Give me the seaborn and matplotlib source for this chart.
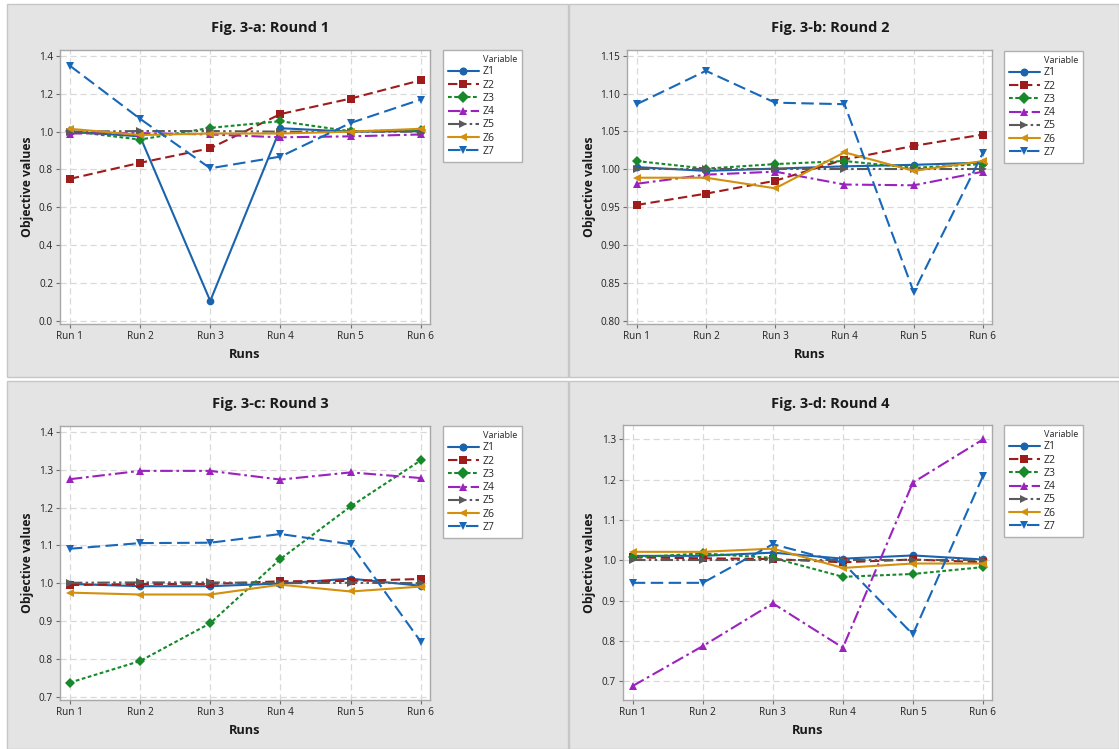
import numpy as np
import pandas as pd
import matplotlib
matplotlib.use("Agg")
import matplotlib.pyplot as plt
from matplotlib.patches import Rectangle
from matplotlib.lines import Line2D
import seaborn as sns

runs = ["Run 1", "Run 2", "Run 3", "Run 4", "Run 5", "Run 6"]
variables = ["Z1", "Z2", "Z3", "Z4", "Z5", "Z6", "Z7"]

# Round 1
r1_z1 = [1.00, 0.975, 0.104, 1.018, 1.000, 1.003]
r1_z2 = [0.750, 0.835, 0.912, 1.093, 1.175, 1.272]
r1_z3 = [1.003, 0.958, 1.020, 1.055, 1.002, 1.008]
r1_z4 = [0.990, 0.992, 0.985, 0.970, 0.975, 0.985]
r1_z5 = [1.000, 1.003, 1.003, 1.000, 1.000, 1.000]
r1_z6 = [1.015, 0.982, 0.990, 0.990, 1.000, 1.015]
r1_z7 = [1.349, 1.068, 0.806, 0.868, 1.046, 1.170]

# Round 2
r2_z1 = [1.003, 0.998, 1.001, 1.004, 1.006, 1.009]
r2_z2 = [0.953, 0.968, 0.985, 1.013, 1.031, 1.046]
r2_z3 = [1.011, 1.001, 1.007, 1.011, 1.002, 1.007]
r2_z4 = [0.981, 0.993, 0.997, 0.980, 0.979, 0.997]
r2_z5 = [1.000, 1.000, 1.000, 1.000, 1.000, 1.000]
r2_z6 = [0.989, 0.989, 0.975, 1.0225, 0.998, 1.011]
r2_z7 = [1.086, 1.130, 1.088, 1.086, 0.838, 1.022]

# Round 3
r3_z1 = [0.998, 0.992, 0.992, 0.999, 1.012, 0.993]
r3_z2 = [0.995, 0.998, 0.998, 1.005, 1.006, 1.011]
r3_z3 = [0.737, 0.794, 0.894, 1.064, 1.203, 1.325]
r3_z4 = [1.275, 1.297, 1.297, 1.274, 1.293, 1.278]
r3_z5 = [1.001, 1.002, 1.002, 1.000, 1.001, 1.000]
r3_z6 = [0.975, 0.970, 0.970, 0.996, 0.978, 0.991]
r3_z7 = [1.091, 1.106, 1.107, 1.130, 1.103, 0.845]

# Round 4
r4_z1 = [1.011, 1.011, 1.019, 1.004, 1.012, 1.002]
r4_z2 = [1.007, 1.005, 1.003, 0.995, 1.002, 0.995]
r4_z3 = [1.007, 1.017, 1.006, 0.959, 0.966, 0.983]
r4_z4 = [0.688, 0.787, 0.893, 0.783, 1.193, 1.300]
r4_z5 = [1.000, 1.000, 1.000, 1.000, 1.000, 1.000]
r4_z6 = [1.021, 1.021, 1.029, 0.981, 0.992, 0.992]
r4_z7 = [0.944, 0.944, 1.040, 0.994, 0.816, 1.209]

titles = ["Fig. 3-a: Round 1", "Fig. 3-b: Round 2", "Fig. 3-c: Round 3", "Fig. 3-d: Round 4"]
rounds = [
    [r1_z1, r1_z2, r1_z3, r1_z4, r1_z5, r1_z6, r1_z7],
    [r2_z1, r2_z2, r2_z3, r2_z4, r2_z5, r2_z6, r2_z7],
    [r3_z1, r3_z2, r3_z3, r3_z4, r3_z5, r3_z6, r3_z7],
    [r4_z1, r4_z2, r4_z3, r4_z4, r4_z5, r4_z6, r4_z7],
]
yticks_list = [
    [0.0, 0.2, 0.4, 0.6, 0.8, 1.0, 1.2, 1.4],
    [0.80, 0.85, 0.90, 0.95, 1.00, 1.05, 1.10, 1.15],
    [0.7, 0.8, 0.9, 1.0, 1.1, 1.2, 1.3, 1.4],
    [0.7, 0.8, 0.9, 1.0, 1.1, 1.2, 1.3],
]
ytick_fmt = ["{:.1f}", "{:.2f}", "{:.1f}", "{:.1f}"]
ylims = [(-0.018, 1.432), (0.796, 1.1575), (0.691, 1.4157), (0.653, 1.336)]

palette = {"Z1": "#1a63ad", "Z2": "#9e1c1c", "Z3": "#17892a", "Z4": "#9b22bd",
           "Z5": "#5a5a5a", "Z6": "#d38f0e", "Z7": "#1867b8"}
markers = {"Z1": "o", "Z2": "s", "Z3": "D", "Z4": "^", "Z5": ">", "Z6": "<", "Z7": "v"}
dashes = {"Z1": "", "Z2": (4.5, 2.2), "Z3": (1.8, 1.2), "Z4": (6, 1.8, 1.3, 1.8),
          "Z5": (6, 1.6, 1.2, 1.6, 1.2, 1.6), "Z6": "", "Z7": (6, 2.6)}

sns.set_theme(style="white")
plt.rcParams["font.family"] = ["Open Sans", "DejaVu Sans"]

W, H = 1119, 749
fig = plt.figure(figsize=(W / 100, H / 100), dpi=100)
fig.patch.set_facecolor("white")

def frac_rect(l, t, r, b):
    return [l / W, 1 - b / H, (r - l) / W, (b - t) / H]

# panel backgrounds
panels = [(7, 4, 568, 377), (569, 4, 1119, 377), (7, 381, 568, 749), (569, 381, 1119, 749)]
for (l, t, r, b) in panels:
    fig.patches.append(Rectangle((l / W, 1 - b / H), (r - l) / W, (b - t) / H,
                                 transform=fig.transFigure, facecolor="#e4e4e4",
                                 edgecolor="#c6c6c6", linewidth=1.0, zorder=-10))

axes_px = [(60, 50, 430, 324), (627, 50, 992, 324), (60, 426, 430, 700), (623, 425, 992, 700)]
legend_px = [(443, 50), (1004, 51), (443, 426), (1004, 425)]
title_px = [(270, 28), (830, 28), (270, 404), (830, 404)]
ylab_x = [28, 590, 28, 590]
xlab_y = [354, 354, 730, 730]

for i in range(4):
    rows = []
    for v, vals in zip(variables, rounds[i]):
        for rn, val in zip(runs, vals):
            rows.append({"Run": rn, "Value": val, "Variable": v})
    df = pd.DataFrame(rows)
    ax = fig.add_axes(frac_rect(*axes_px[i]))
    ax.set_zorder(5)
    ax.set_facecolor("white")
    sns.lineplot(data=df, x="Run", y="Value", hue="Variable", style="Variable",
                 palette=palette, markers=markers, dashes=dashes, sort=False,
                 linewidth=1.5, markersize=5.5, markeredgewidth=0, ax=ax)
    ax.set_xlim(-0.14, 5.13)
    ax.set_ylim(*ylims[i])
    ax.set_yticks(yticks_list[i])
    ax.set_yticklabels([ytick_fmt[i].format(t) for t in yticks_list[i]])
    ax.set_xticks(range(len(runs)))
    ax.set_xticklabels(runs)
    ax.grid(True, color="#d9d9d9", linestyle=(0, (5, 3)), linewidth=0.9)
    ax.set_axisbelow(True)
    for s in ax.spines.values():
        s.set_color("#a8a8a8")
        s.set_linewidth(1.0)
    ax.tick_params(axis="both", which="major", length=3, width=0.8, color="#707070",
                   labelsize=7.2, labelcolor="#222222", pad=2, direction="out",
                   left=True, bottom=True)
    ax.set_xlabel("")
    ax.set_ylabel("")
    axc = (axes_px[i][1] + axes_px[i][3]) / 2
    axx = (axes_px[i][0] + axes_px[i][2]) / 2
    fig.text(ylab_x[i] / W, 1 - axc / H, "Objective values", rotation=90,
             ha="center", va="center", fontsize=8.8, fontweight="bold", color="#1a1a1a")
    fig.text(axx / W, 1 - xlab_y[i] / H, "Runs", ha="center", va="center",
             fontsize=9.2, fontweight="bold", color="#1a1a1a")
    fig.text(title_px[i][0] / W, 1 - title_px[i][1] / H, titles[i], ha="center", va="center",
             fontsize=10.5, fontweight="bold", color="#1a1a1a")
    handles, labels = ax.get_legend_handles_labels()
    if ax.get_legend() is not None:
        ax.get_legend().remove()
    blank = Line2D([], [], linestyle="none", marker=None)
    lx, ly = legend_px[i]
    leg = ax.legend([blank] + handles, ["Variable"] + labels, loc="upper left",
                    bbox_to_anchor=(lx / W, 1 - ly / H), bbox_transform=fig.transFigure,
                    fontsize=7.5, frameon=True, fancybox=False,
                    edgecolor="#b0b0b0", framealpha=1, handlelength=3.0,
                    handletextpad=0.35, labelspacing=0.22, borderpad=0.45,
                    borderaxespad=0, markerscale=1.05)
    leg.get_frame().set_linewidth(1.0)
    leg.get_texts()[0].set_fontsize(6.6)

fig.savefig("out.png", dpi=100, facecolor=fig.get_facecolor())
